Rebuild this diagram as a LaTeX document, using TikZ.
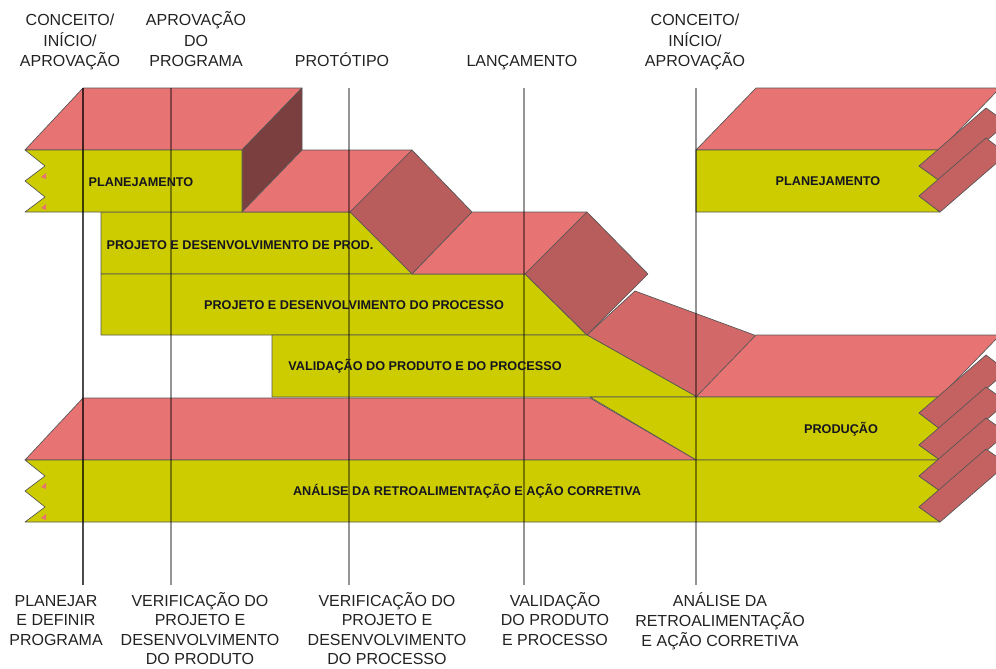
\documentclass[tikz,border=0pt]{standalone}
\usepackage{fontspec}
\setmainfont{Liberation Sans}
\definecolor{yel}{HTML}{CCCC00}
\definecolor{topc}{HTML}{E87373}
\definecolor{sidec}{HTML}{7B3F3F}
\definecolor{diac}{HTML}{B85C5C}
\definecolor{bandc}{HTML}{D26868}
\definecolor{stripc}{HTML}{C46262}
\definecolor{edgec}{HTML}{555555}
\definecolor{txt}{HTML}{15151F}
\definecolor{labc}{HTML}{222222}
\tikzset{
  face/.style={draw=edgec,line width=0.5pt,line join=round},
  frontface/.style={face,fill=yel},
  topface/.style={face,fill=topc},
  sideface/.style={face,fill=sidec},
  diaface/.style={face,fill=diac},
  bandface/.style={face,fill=bandc},
  stripface/.style={face,fill=stripc},
  tipface/.style={fill=topc},
  milestone/.style={black,opacity=0.42,line width=0.9pt},
  milestonedark/.style={black,opacity=0.7,line width=1.1pt},
  blab/.style={inner sep=0pt,font=\fontsize{9.5}{11}\selectfont\bfseries,text=txt,text height=6.8pt,text depth=0pt,anchor=center},
  lab/.style={inner sep=0pt,anchor=base,font=\fontsize{12}{15.4}\selectfont,text=labc},
  blab2/.style={inner sep=0pt,anchor=base,font=\fontsize{12}{14.5}\selectfont,text=labc}
}
\begin{document}
\begin{tikzpicture}[x=0.75pt,y=-0.75pt]
\useasboundingbox (0,0) rectangle (996,668);
\begin{scope}
\clip (0,0) rectangle (996,668);
% ---- left Planejamento block
\draw[topface] (25,150) -- (83,88) -- (302,88) -- (242,150) -- cycle;
\draw[sideface] (242,150) -- (302,88) -- (302,150) -- (242,212) -- cycle;
% ---- Projeto e desenvolvimento de produto
\draw[frontface] (101,212) -- (350,212) -- (412,274) -- (101,274) -- cycle;
\draw[topface] (242,212) -- (302,150) -- (412,150) -- (350,212) -- cycle;
\draw[diaface] (350,212) -- (412,150) -- (472,212) -- (412,274) -- cycle;
% ---- Projeto e desenvolvimento do processo
\draw[frontface] (101,274) -- (525,274) -- (587,335) -- (101,335) -- cycle;
\draw[topface] (412,274) -- (472,212) -- (587,212) -- (525,274) -- cycle;
\draw[bandface] (587,335) -- (635,291) -- (757,336) -- (697,397) -- cycle;
\draw[diaface] (525,274) -- (587,212) -- (648,274) -- (587,335) -- cycle;
% ---- Validacao
\draw[frontface] (272,335) -- (587,335) -- (697,397) -- (272,397) -- cycle;
% ---- Producao
\draw[topface] (696,397) -- (756,335) -- (1000,335) -- (940,397) -- cycle;
\draw[frontface] (590,397) -- (940,397) -- (919,413) -- (940,429) -- (919,445) -- (940,460) -- (696,460) -- cycle;
% ---- Analise
\draw[topface] (25,460) -- (83,398) -- (590,398) -- (696,460) -- cycle;
\draw[frontface] (25,460) -- (940,460) -- (919,476) -- (940,491) -- (919,507) -- (940,522) -- (25,522) -- (45,507) -- (25,491) -- (45,476) -- cycle;
% ---- left Planejamento front
\draw[frontface] (25,150) -- (242,150) -- (242,212) -- (25,212) -- (45,197) -- (25,181) -- (45,166) -- cycle;
% ---- right Planejamento
\draw[topface] (696,150) -- (756,88) -- (1000,88) -- (940,150) -- cycle;
\draw[frontface] (696,150) -- (940,150) -- (919,166) -- (940,181) -- (919,196) -- (940,212) -- (696,212) -- cycle;
% ---- broken-end strips on the right
\foreach \yn/\yo in {166/181,196/212,413/429,445/460,476/491,507/522}
  \draw[stripface] (919,\yn) -- (940,\yo) -- (1007,\yo-58) -- (986,\yn-58) -- cycle;
% ---- small pink tips at the left notches
\foreach \yn in {166,197,476,507}
  \fill[tipface] (46,\yn+7) -- (46,\yn+13) -- (41,\yn+11) -- cycle;
\end{scope}
% ---- milestone lines
\draw[milestonedark] (83,88) -- (83,585);
\foreach \x in {171,349,524,696}
  \draw[milestone] (\x,88) -- (\x,585);
% ---- block labels
\node[blab] (planL) at (141,182) {PLANEJAMENTO};
\node[blab] (pdprod) at (240,245) {PROJETO E DESENVOLVIMENTO DE PROD.};
\node[blab] (pdproc) at (354,305) {PROJETO E DESENVOLVIMENTO DO PROCESSO};
\node[blab] (valid) at (425,366) {VALIDAÇÃO DO PRODUTO E DO PROCESSO};
\node[blab] (prod) at (841,429) {PRODUÇÃO};
\node[blab] (anal) at (467,491) {ANÁLISE DA RETROALIMENTAÇÃO E AÇÃO CORRETIVA};
\node[blab] (planR) at (828,181) {PLANEJAMENTO};
% ---- top labels
\node[lab] (t1) at (70,25.7) {\begin{tabular}[t]{@{}c@{}}CONCEITO/\\INÍCIO/\\APROVAÇÃO\end{tabular}};
\node[lab] (t2) at (196,25.7) {\begin{tabular}[t]{@{}c@{}}APROVAÇÃO\\DO\\PROGRAMA\end{tabular}};
\node[lab] (t3) at (342,66.7) {PROTÓTIPO};
\node[lab] (t4) at (522,66.7) {LANÇAMENTO};
\node[lab] (t5) at (695,25.7) {\begin{tabular}[t]{@{}c@{}}CONCEITO/\\INÍCIO/\\APROVAÇÃO\end{tabular}};
% ---- bottom labels
\node[blab2] (b1) at (56,606.5) {\begin{tabular}[t]{@{}c@{}}PLANEJAR\\E DEFINIR\\PROGRAMA\end{tabular}};
\node[blab2] (b2) at (200,606.5) {\begin{tabular}[t]{@{}c@{}}VERIFICAÇÃO DO\\PROJETO E\\DESENVOLVIMENTO\\DO PRODUTO\end{tabular}};
\node[blab2] (b3) at (387,606.5) {\begin{tabular}[t]{@{}c@{}}VERIFICAÇÃO DO\\PROJETO E\\DESENVOLVIMENTO\\DO PROCESSO\end{tabular}};
\node[blab2] (b4) at (555,606.5) {\begin{tabular}[t]{@{}c@{}}VALIDAÇÃO\\DO PRODUTO\\E PROCESSO\end{tabular}};
\node[blab2] (b5) at (720,606.5) {\begin{tabular}[t]{@{}c@{}}ANÁLISE DA\\RETROALIMENTAÇÃO\\E AÇÃO CORRETIVA\end{tabular}};
\end{tikzpicture}
\end{document}
